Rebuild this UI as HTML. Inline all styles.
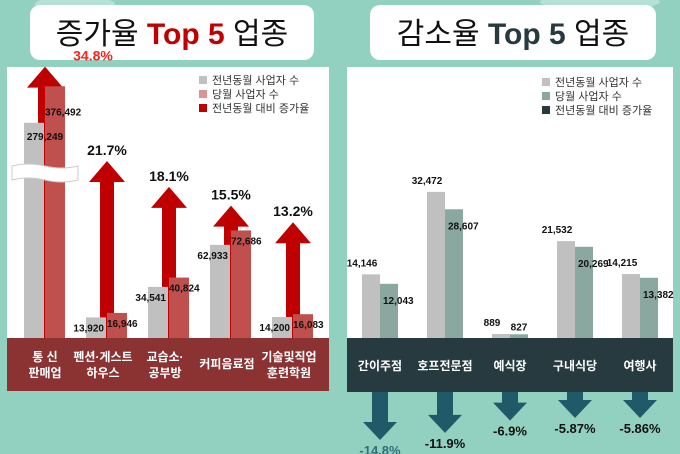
<!DOCTYPE html>
<html><head><meta charset="utf-8">
<style>
html,body{margin:0;padding:0;background:#92d1c0;}
svg{display:block;font-family:"Liberation Sans","Noto Sans CJK KR",sans-serif;}
</style></head>
<body>
<svg id="c" width="680" height="454" viewBox="0 0 680 454" xmlns="http://www.w3.org/2000/svg">
<rect x="0" y="0" width="680" height="454" fill="#92d1c0"/>
<ellipse cx="75" cy="4" rx="40" ry="8" fill="#b5e0d5"/>
<ellipse cx="600" cy="2" rx="60" ry="8" fill="#b5e0d5"/>
<g>
<rect x="30" y="5" width="284" height="55" rx="10" fill="#fff"/>
<text x="172" y="44" text-anchor="middle" font-size="30" fill="#111"><tspan>증가율 </tspan><tspan font-weight="bold" fill="#c00000">Top 5</tspan><tspan> 업종</tspan></text>
</g>
<g>
<rect x="370" y="5" width="286" height="55" rx="10" fill="#fff"/>
<text x="513" y="44" text-anchor="middle" font-size="30" fill="#111"><tspan>감소율 </tspan><tspan font-weight="bold" fill="#263a3f">Top 5</tspan><tspan> 업종</tspan></text>
</g>
<rect x="7" y="67" width="322" height="271" fill="#fff"/>
<rect x="347" y="67" width="326" height="271" fill="#fff"/>
<g id="L"></g>
<g id="R"></g>
<rect x="7" y="338" width="322" height="53" fill="#8b3333"/>
<rect x="347" y="338" width="326" height="54" fill="#263a3f"/>
<g id="LA"></g>
<g id="RA"></g>
<g font-size="11" fill="#333">
<rect x="199" y="76" width="8" height="8" fill="#c0c0c0"/><text x="212" y="84">전년동월 사업자 수</text>
<rect x="199" y="90" width="8" height="8" fill="#d99694"/><text x="212" y="98">당월 사업자 수</text>
<rect x="199" y="104" width="8" height="8" fill="#c00000"/><text x="212" y="112">전년동월 대비 증가율</text>
</g>
<g font-size="11" fill="#333">
<rect x="542" y="78" width="8" height="8" fill="#c0c0c0"/><text x="555" y="86">전년동월 사업자 수</text>
<rect x="542" y="92" width="8" height="8" fill="#8aa89f"/><text x="555" y="100">당월 사업자 수</text>
<rect x="542" y="106" width="8" height="8" fill="#263a3f"/><text x="555" y="114">전년동월 대비 증가율</text>
</g>
</svg>
<script>
const incCategories = [["통  신","판매업"],["펜션·게스트","하우스"],["교습소·","공부방"],["커피음료점"],["기술및직업","훈련학원"]];
const incPrev = [279249, 13920, 34541, 62933, 14200];
const incCurr = [376492, 16946, 40824, 72686, 16083];
const incRate = [34.8, 21.7, 18.1, 15.5, 13.2];
const decCategories = ["간이주점","호프전문점","예식장","구내식당","여행사"];
const decPrev = [14146, 32472, 889, 21532, 14215];
const decCurr = [12043, 28607, 827, 20269, 13382];
const decRate = [-14.8, -11.9, -6.9, -5.87, -5.86];

const NS = "http://www.w3.org/2000/svg";
function mk(tag, attrs, parent, txt){
  const e = document.createElementNS(NS, tag);
  for (const k in attrs) e.setAttribute(k, attrs[k]);
  if (txt !== undefined) e.textContent = txt;
  parent.appendChild(e);
  return e;
}
const fmt = v => v.toLocaleString("en-US");
const BASE = 338;
// left axis with break above 100,000
function yL(v){ return v <= 100000 ? BASE - v*0.00148 : BASE - 148 - (v-100000)*0.000375; }
function xL(i){ return 45 + i*62; }
function arrowTopL(p){ return 161 - (p-21.7)*7.2; }
function yR(v){ return BASE - v*0.0045; }
function xR(i){ return 380 + i*65; }
function arrowTipR(p){ return 392 + 11.6 + Math.abs(p)*2.46; }

const L = document.getElementById("L"), LA = document.getElementById("LA");
incPrev.forEach((v,i)=>{
  const cx = xL(i), top = arrowTopL(incRate[i]);
  const ar = mk("path",{d:`M${cx-7},${BASE} L${cx-7},${top+21} L${cx-18},${top+21} L${cx},${top} L${cx+18},${top+21} L${cx+7},${top+21} L${cx+7},${BASE} Z`, fill:"#c00000"}, L);
  
  
  const pl = mk("text",{x: i===0 ? cx+48 : cx, y: top-6, "text-anchor":"middle","font-size":"14","font-weight":"bold",fill: i===0?"#ff2020":"#111"}, L, incRate[i].toFixed(1)+"%");
  
  
});
incPrev.forEach((v,i)=>{
  const cx = xL(i), yp = yL(v), yc = yL(incCurr[i]);
  const b1 = mk("rect",{x:cx-21,y:yp,width:20,height:BASE-yp,fill:"#c0c0c0"}, L);
  
  
  const b2 = mk("rect",{x:cx,y:yc,width:20,height:BASE-yc,fill:"#c0504d"}, L);
  
  
  let t1, t2;
  if (v > 100000){
    t1 = mk("text",{x:cx,y:yp+17,"text-anchor":"middle","font-size":"10","font-weight":"bold",fill:"#111"}, L, fmt(v));
    t2 = mk("text",{x:cx,y:yc+29,"font-size":"10","font-weight":"bold",fill:"#111"}, L, fmt(incCurr[i]));
  } else {
    t1 = mk("text",{x:cx-3,y:yp+14,"text-anchor":"end","font-size":"10","font-weight":"bold",fill:"#111"}, L, fmt(v));
    t2 = mk("text",{x:cx,y:yc+14,"font-size":"10","font-weight":"bold",fill:"#111"}, L, fmt(incCurr[i]));
  }
  
  
  
  
});
// axis break marker
const brk = mk("path",{d:"M12,166 Q28,162 45,166 T78,166 L78,180 Q62,184 45,180 T12,180 Z",fill:"#fff",stroke:"#ccc","stroke-width":"1"}, L);



incCategories.forEach((c,i)=>{
  const cx = xL(i) - (i===0?0:4);
  const t = mk("text",{x:cx, y: c.length===1?368:361,"text-anchor":"middle","font-size":"12","font-weight":"bold",fill:"#fff"}, LA);
  
  
  c.forEach((s,k)=>{ mk("tspan",{x:cx, dy: k===0?0:16}, t, s); });
});

const R = document.getElementById("R"), RA = document.getElementById("RA");
decPrev.forEach((v,i)=>{
  const cx = xR(i), yp = yR(v), yc = yR(decCurr[i]);
  const b1 = mk("rect",{x:cx-18,y:yp,width:18,height:BASE-yp,fill:"#c0c0c0"}, R);
  
  
  const b2 = mk("rect",{x:cx,y:yc,width:18,height:BASE-yc,fill:"#8aa89f"}, R);
  
  
  const t1 = mk("text",{x:cx-18,y:yp-8,"text-anchor":"middle","font-size":"10","font-weight":"bold",fill:"#111"}, R, fmt(v));
  
  
  const small = BASE-yc < 20;
  const t2 = mk("text",{x: small?cx+9:cx+3, y: small?yc-4:yc+20, "text-anchor": small?"middle":"start","font-size":"10","font-weight":"bold",fill:"#111"}, R, fmt(decCurr[i]));
  
  
  const cl = mk("text",{x:cx,y:370,"text-anchor":"middle","font-size":"12","font-weight":"bold",fill:"#fff"}, RA, decCategories[i]);
  
  
  const tip = arrowTipR(decRate[i]);
  const ar = mk("path",{d:`M${cx-8},392 L${cx-8},${tip-18} L${cx-17},${tip-18} L${cx},${tip} L${cx+17},${tip-18} L${cx+8},${tip-18} L${cx+8},392 Z`,fill:"#215968"}, RA);
  
  
  const pl = mk("text",{x:cx,y:tip+15,"text-anchor":"middle","font-size":"13","font-weight":"bold",fill: i===0?"#31707a":"#111"}, RA, decRate[i]+"%");
  
  
});
</script>
</body></html>
